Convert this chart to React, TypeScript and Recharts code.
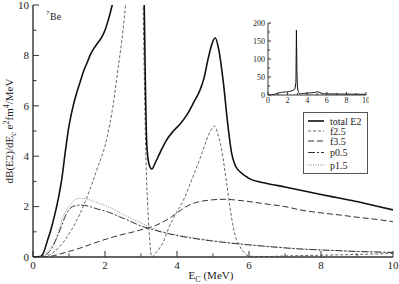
import { ComposedChart, Line, XAxis, YAxis } from "recharts";

const SERIF = '"Liberation Serif", "DejaVu Serif", serif';

// dB(E2)/dE_C (e^2 fm^4 / MeV) vs E_C (MeV) as [E_C, value]
const totalE2: [number, number][] = [
  [0, 0], [0.2, 0.02], [0.3, 0.2], [0.4, 0.65], [0.5, 1.1], [0.6, 1.65], [0.7, 2.3],
  [0.8, 3.1], [0.9, 4.2], [1.0, 5.2], [1.1, 5.9], [1.2, 6.45], [1.3, 6.9], [1.4, 7.35],
  [1.5, 7.7], [1.6, 8.05], [1.7, 8.3], [1.8, 8.5], [1.9, 8.7], [2.0, 9.0], [2.1, 9.45],
  [2.2, 10.0], [2.4, 11.5], [2.6, 13.5], [2.75, 17], [2.85, 35], [2.9, 180], [2.95, 70],
  [3.0, 25], [3.05, 14], [3.09, 10], [3.12, 7], [3.16, 4.5], [3.22, 3.7], [3.3, 3.49],
  [3.4, 3.75], [3.5, 4.05], [3.6, 4.35], [3.7, 4.62], [3.9, 5.0], [4.1, 5.3], [4.27, 5.63],
  [4.45, 6.1], [4.64, 6.63], [4.75, 7.1], [4.87, 7.9], [4.97, 8.45], [5.06, 8.7],
  [5.15, 8.3], [5.29, 6.9], [5.4, 5.4], [5.52, 4.1], [5.63, 3.6], [5.75, 3.38],
  [6.0, 3.12], [6.5, 2.92], [7.0, 2.78], [7.5, 2.63], [8.0, 2.48], [8.5, 2.34],
  [9.0, 2.2], [9.5, 2.03], [10, 1.87],
];

const f25: [number, number][] = [
  [0, 0], [0.3, 0.02], [0.5, 0.12], [0.7, 0.35], [0.9, 0.7], [1.1, 1.15], [1.3, 1.7],
  [1.49, 2.34], [1.77, 3.45], [2.05, 4.7], [2.2, 5.8], [2.37, 7.55], [2.5, 9.0],
  [2.57, 10], [2.7, 13], [2.8, 18], [2.85, 30], [2.9, 170], [2.95, 60], [3.0, 22],
  [3.03, 14], [3.06, 10], [3.1, 6.5], [3.13, 4.3], [3.18, 2.2], [3.23, 0.9], [3.27, 0.2],
  [3.3, 0], [3.4, 0.15], [3.5, 0.32], [3.62, 0.6], [3.71, 0.94], [3.85, 1.4], [4.0, 1.8],
  [4.18, 2.26], [4.35, 2.85], [4.55, 3.58], [4.7, 4.15], [4.82, 4.64], [4.95, 5.05],
  [5.04, 5.2], [5.12, 4.95], [5.24, 4.25], [5.38, 2.92], [5.47, 2.0], [5.56, 1.2],
  [5.65, 0.7], [5.75, 0.41], [5.9, 0.12], [6.03, 0.03], [6.5, 0.02], [7, 0.04],
  [8, 0.07], [9, 0.1], [10, 0.14],
];

const f35: [number, number][] = [
  [0, 0], [0.3, 0], [0.5, 0.03], [0.7, 0.1], [1.0, 0.22], [1.3, 0.35], [1.6, 0.5],
  [1.9, 0.65], [2.2, 0.78], [2.5, 0.9], [2.8, 1.0], [3.0, 1.08], [3.2, 1.15], [3.4, 1.25],
  [3.6, 1.38], [3.8, 1.55], [4.0, 1.75], [4.2, 1.95], [4.4, 2.1], [4.64, 2.2], [5.0, 2.27],
  [5.33, 2.29], [5.7, 2.25], [6.0, 2.2], [6.5, 2.1], [7.0, 2.0], [7.42, 1.87], [8.0, 1.75],
  [8.5, 1.67], [9.0, 1.58], [9.5, 1.5], [10, 1.4],
];

const p05: [number, number][] = [
  [0, 0], [0.3, 0.05], [0.5, 0.3], [0.75, 1.07], [0.94, 1.75], [1.1, 2.0], [1.31, 2.06],
  [1.5, 2.03], [1.8, 1.9], [2.1, 1.78], [2.4, 1.6], [2.7, 1.42], [3.0, 1.23], [3.3, 1.1],
  [3.6, 0.98], [4.0, 0.85], [4.5, 0.73], [5.0, 0.63], [5.5, 0.55], [6.0, 0.48],
  [6.5, 0.42], [7.0, 0.36], [7.5, 0.31], [8.0, 0.28], [8.5, 0.25], [9.0, 0.22],
  [9.5, 0.2], [10, 0.18],
];

const p15: [number, number][] = [
  [0, 0], [0.2, 0.02], [0.3, 0.1], [0.5, 0.4], [0.66, 0.8], [0.84, 1.6], [1.03, 2.06],
  [1.15, 2.25], [1.31, 2.33], [1.5, 2.3], [1.7, 2.2], [2.0, 2.05], [2.3, 1.85],
  [2.6, 1.62], [3.0, 1.35], [3.3, 1.15], [3.6, 1.0], [4.0, 0.88], [4.5, 0.76], [5.0, 0.65],
  [5.5, 0.56], [6.0, 0.49], [6.5, 0.42], [7.0, 0.37], [7.5, 0.32], [8.0, 0.28],
  [8.5, 0.25], [9.0, 0.22], [9.5, 0.2], [10, 0.18],
];

const xTicks = [0, 1, 2, 3, 4, 5, 6, 7, 8, 9, 10];
const yTicks = [0, 1, 2, 3, 4, 5, 6, 7, 8, 9, 10];
const insetYTicks = [0, 25, 50, 75, 100, 125, 150, 175, 200];

const SERIES = [
  { name: "total E2", pts: totalE2, color: "#111", width: 1.6, dash: undefined },
  { name: "f2.5", pts: f25, color: "#666", width: 1, dash: "3 2" },
  { name: "f3.5", pts: f35, color: "#333", width: 1, dash: "6 3" },
  { name: "p0.5", pts: p05, color: "#333", width: 1, dash: "7 2 2 2" },
  { name: "p1.5", pts: p15, color: "#888", width: 1, dash: "1 1.5" },
];

const toRows = (pts: [number, number][]) => pts.map(([x, y]) => ({ x, y }));

type Side = "bottom" | "top" | "left" | "right";

// inward ticks, label only on the major ones
function makeTick(side: Side, every: number, major: number, minor: number, fontSize: number, gap: number, labels: boolean) {
  return (props: any) => {
    const { x, y, payload } = props;
    const v = payload.value as number;
    const isMajor = Math.abs(v / every - Math.round(v / every)) < 1e-6;
    const len = isMajor ? major : minor;
    let x2 = x, y2 = y;
    if (side === "bottom") y2 = y - len;
    if (side === "top") y2 = y + len;
    if (side === "left") x2 = x + len;
    if (side === "right") x2 = x - len;
    return (
      <g>
        <line x1={x} y1={y} x2={x2} y2={y2} stroke="#333" strokeWidth={1} />
        {labels && isMajor && side === "bottom" && (
          <text x={x} y={y + gap} textAnchor="middle" fontSize={fontSize} fontFamily={SERIF} fill="#222">
            {v}
          </text>
        )}
        {labels && isMajor && side === "left" && (
          <text x={x - gap} y={y} dy="0.35em" textAnchor="end" fontSize={fontSize} fontFamily={SERIF} fill="#222">
            {v}
          </text>
        )}
      </g>
    );
  };
}

function Inset() {
  return (
    <div style={{ position: "absolute", left: 245, top: 18 }}>
      <ComposedChart width={124} height={92} margin={{ top: 5, right: 3, bottom: 0, left: 0 }}>
        <XAxis dataKey="x" type="number" domain={[0, 10]} ticks={xTicks} interval={0} height={15}
          allowDataOverflow tickSize={0} tickMargin={0} stroke="#333"
          tick={makeTick("bottom", 2, 3, 2, 8, 8, true)} />
        <XAxis xAxisId="top" orientation="top" dataKey="x" type="number" domain={[0, 10]} ticks={xTicks}
          interval={0} height={0} allowDataOverflow tickSize={0} tickMargin={0} stroke="#333"
          tick={makeTick("top", 2, 3, 2, 8, 8, false)} />
        <YAxis type="number" domain={[0, 200]} ticks={insetYTicks} interval={0} width={23}
          allowDataOverflow tickSize={0} tickMargin={0} stroke="#333"
          tick={makeTick("left", 50, 3, 2, 8, 3, true)} />
        <YAxis yAxisId="right" orientation="right" type="number" domain={[0, 200]} ticks={insetYTicks}
          interval={0} width={0} allowDataOverflow tickSize={0} tickMargin={0} stroke="#333"
          tick={makeTick("right", 50, 3, 2, 8, 3, false)} />
        <Line data={toRows(totalE2)} dataKey="y" type="linear" stroke="#111" strokeWidth={1}
          dot={false} activeDot={false} isAnimationActive={false} />
      </ComposedChart>
    </div>
  );
}

function LegendBox() {
  const rows = [121, 131, 141, 152.5, 165];
  return (
    <div style={{ position: "absolute", left: 303, top: 112, width: 63, height: 60, border: "1px solid #555", background: "#fff" }}>
      <svg width={63} height={60} style={{ position: "absolute", left: 0, top: 0 }}>
        {SERIES.map((s, i) => {
          const cy = rows[i] - 113;
          return (
            <g key={s.name}>
              <line x1={4} x2={20} y1={cy} y2={cy} stroke={s.color} strokeWidth={s.width} strokeDasharray={s.dash} />
              <text x={26} y={cy} dy="0.35em" fontSize={10} fontFamily={SERIF} fill="#222">{s.name}</text>
            </g>
          );
        })}
      </svg>
    </div>
  );
}

export default function App() {
  return (
    <div style={{ position: "relative", width: 399, height: 284, background: "#fff" }}>
      <style>{"body{margin:0}"}</style>
      <ComposedChart width={399} height={284} margin={{ top: 5, right: 6, bottom: 0, left: 0 }}>
        <XAxis dataKey="x" type="number" domain={[0, 10]} ticks={xTicks} interval={0} height={27}
          allowDataOverflow tickSize={0} tickMargin={0} stroke="#333" strokeWidth={1.4}
          tick={makeTick("bottom", 2, 6, 3.5, 11, 12, true)} />
        <XAxis xAxisId="top" orientation="top" dataKey="x" type="number" domain={[0, 10]} ticks={xTicks}
          interval={0} height={0} allowDataOverflow tickSize={0} tickMargin={0} stroke="#333" strokeWidth={1.4}
          tick={makeTick("top", 2, 6, 3.5, 11, 12, false)} />
        <YAxis type="number" domain={[0, 10]} ticks={yTicks} interval={0} width={33}
          allowDataOverflow tickSize={0} tickMargin={0} stroke="#333" strokeWidth={1.4}
          tick={makeTick("left", 2, 6, 3.5, 11, 4, true)} />
        <YAxis yAxisId="right" orientation="right" type="number" domain={[0, 10]} ticks={yTicks}
          interval={0} width={0} allowDataOverflow tickSize={0} tickMargin={0} stroke="#333" strokeWidth={1.4}
          tick={makeTick("right", 2, 6, 3.5, 11, 4, false)} />
        {SERIES.slice().reverse().map((s) => (
          <Line key={s.name} data={toRows(s.pts)} dataKey="y" name={s.name} type="monotone"
            stroke={s.color} strokeWidth={s.width} strokeDasharray={s.dash}
            dot={false} activeDot={false} isAnimationActive={false} />
        ))}
        <text x={46} y={15} fontSize={7} fontFamily={SERIF} fill="#222">7</text>
        <text x={50} y={20} fontSize={10} fontFamily={SERIF} fill="#222">Be</text>
        <text x={211} y={279} textAnchor="middle" fontSize={11} fontFamily={SERIF} fill="#222">
          E<tspan fontSize={8} dy={3}>C</tspan><tspan dy={-3}> (MeV)</tspan>
        </text>
        <text transform="translate(13,131) rotate(-90)" textAnchor="middle" fontSize={11} fontFamily={SERIF} fill="#222">
          dB(E2)/dE<tspan fontSize={8} dy={3}>c</tspan>
          <tspan dy={-3}>{"  e"}</tspan><tspan fontSize={8} dy={-4}>2</tspan>
          <tspan dy={4}>fm</tspan><tspan fontSize={8} dy={-4}>4</tspan>
          <tspan dy={4}>/MeV</tspan>
        </text>
      </ComposedChart>
      <Inset />
      <LegendBox />
    </div>
  );
}
